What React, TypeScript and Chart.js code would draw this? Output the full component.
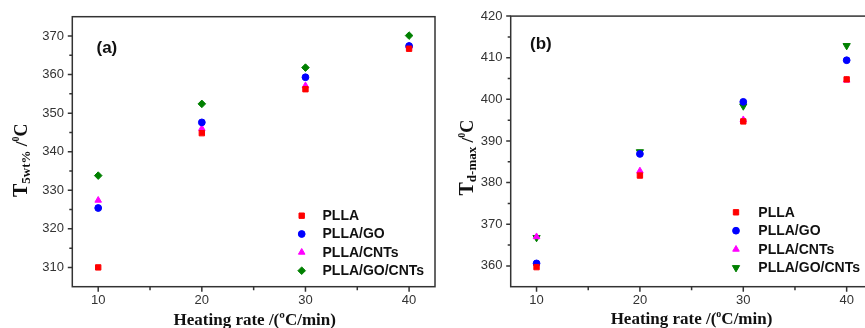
import React, { useEffect, useRef } from 'react';
import { Chart, registerables } from 'chart.js';
import { drawPoint } from 'chart.js/helpers';

Chart.register(...registerables);

// ---------- data ----------
const heatingRates = [10, 20, 30, 40];
const seriesNames = ['PLLA', 'PLLA/GO', 'PLLA/CNTs', 'PLLA/GO/CNTs'];

const t5PLLA = [310.0, 344.8, 356.2, 366.7];
const t5GO = [325.4, 347.6, 359.3, 367.4];
const t5CNTs = [327.4, 346.0, 357.1, 367.4];
const t5GOCNTs = [333.8, 352.4, 361.8, 370.1];

const tdPLLA = [359.7, 381.7, 394.7, 404.8];
const tdGO = [360.6, 386.9, 399.4, 409.4];
const tdCNTs = [367.0, 382.8, 395.1, 404.6];
const tdGOCNTs = [366.8, 387.4, 398.4, 412.9];

const xTickValues = [10, 20, 30, 40];
const yTickValuesA = [310, 320, 330, 340, 350, 360, 370];
const yTickValuesB = [360, 370, 380, 390, 400, 410, 420];

// ---------- styles ----------
const COLORS = ['#ff0000', '#0000ff', '#ff00ff', '#008000'];
const AXIS = '#333333';
const TXT = '#111111';

type Seg = { t: string; size: number; dy: number };

type PanelCfg = {
  series: number[][];
  styles: { pointStyle: string; radius: number; rotation: number }[];
  yMin: number;
  yMax: number;
  yTicks: number[];
  padRight: number;
  padTop: number;
  yWidth: number;
  label: string;
  labelX: number;
  labelY: number;
  legendMarkX: number;
  legendTextX: number;
  legendRows: number[];
  yTitle: Seg[];
  yTitleX: number;
  yTitleStart: number;
  xTitle: Seg[];
  xTitleCx: number;
  xTitleY: number;
};

function drawSegs(ctx: CanvasRenderingContext2D, segs: Seg[], x: number, y: number) {
  let cx = x;
  for (const s of segs) {
    ctx.font = `bold ${s.size}px "Liberation Serif", "Times New Roman", serif`;
    ctx.fillText(s.t, cx, y + s.dy);
    cx += ctx.measureText(s.t).width;
  }
  return cx - x;
}

function segsWidth(ctx: CanvasRenderingContext2D, segs: Seg[]) {
  let w = 0;
  for (const s of segs) {
    ctx.font = `bold ${s.size}px "Liberation Serif", "Times New Roman", serif`;
    w += ctx.measureText(s.t).width;
  }
  return w;
}

function makeConfig(cfg: PanelCfg): any {
  const datasets = cfg.series.map((vals, i) => ({
    label: seriesNames[i],
    data: heatingRates.map((x, j) => ({ x, y: vals[j] })),
    backgroundColor: COLORS[i],
    borderColor: COLORS[i],
    borderWidth: 1,
    pointStyle: cfg.styles[i].pointStyle,
    pointRadius: cfg.styles[i].radius,
    rotation: cfg.styles[i].rotation,
    showLine: false,
  }));

  const decor = {
    id: 'decor',
    beforeDatasetsDraw(chart: any) {
      const ctx = chart.ctx as CanvasRenderingContext2D;
      const a = chart.chartArea;
      const xs = chart.scales.x;
      const ys = chart.scales.y;
      ctx.save();
      ctx.strokeStyle = AXIS;
      ctx.lineWidth = 1.5;
      ctx.strokeRect(a.left, a.top, a.right - a.left, a.bottom - a.top);
      ctx.beginPath();
      // y ticks (major + minor), outward
      cfg.yTicks.forEach((v) => {
        const p = ys.getPixelForValue(v);
        ctx.moveTo(a.left, p);
        ctx.lineTo(a.left - 4.5, p);
        const m = v + 5;
        if (m < cfg.yMax) {
          const pm = ys.getPixelForValue(m);
          ctx.moveTo(a.left, pm);
          ctx.lineTo(a.left - 3, pm);
        }
      });
      // x ticks
      xTickValues.forEach((v, i) => {
        const p = xs.getPixelForValue(v);
        ctx.moveTo(p, a.bottom);
        ctx.lineTo(p, a.bottom + 5);
        if (i < xTickValues.length - 1) {
          const pm = xs.getPixelForValue(v + 5);
          ctx.moveTo(pm, a.bottom);
          ctx.lineTo(pm, a.bottom + 3.5);
        }
      });
      ctx.stroke();
      ctx.restore();
    },
    afterDraw(chart: any) {
      const ctx = chart.ctx as CanvasRenderingContext2D;
      ctx.save();
      // panel label
      ctx.fillStyle = TXT;
      ctx.textAlign = 'left';
      ctx.textBaseline = 'alphabetic';
      ctx.font = 'bold 17px "Liberation Sans", Arial, sans-serif';
      ctx.fillText(cfg.label, cfg.labelX, cfg.labelY);
      // legend
      cfg.legendRows.forEach((ry, i) => {
        const st = cfg.styles[i];
        ctx.fillStyle = COLORS[i];
        ctx.strokeStyle = COLORS[i];
        ctx.lineWidth = 1;
        drawPoint(ctx, { pointStyle: st.pointStyle as any, radius: st.radius, rotation: st.rotation, borderWidth: 1 } as any, cfg.legendMarkX, ry);
        ctx.fillStyle = TXT;
        ctx.textBaseline = 'middle';
        ctx.font = 'bold 14px "Liberation Sans", Arial, sans-serif';
        ctx.fillText(seriesNames[i], cfg.legendTextX, ry + 0.5);
      });
      // x title
      ctx.fillStyle = TXT;
      ctx.textBaseline = 'alphabetic';
      const w = segsWidth(ctx, cfg.xTitle);
      drawSegs(ctx, cfg.xTitle, cfg.xTitleCx - w / 2, cfg.xTitleY);
      // y title rotated
      ctx.translate(cfg.yTitleX, cfg.yTitleStart);
      ctx.rotate(-Math.PI / 2);
      drawSegs(ctx, cfg.yTitle, 0, 0);
      ctx.restore();
    },
  };

  return {
    type: 'scatter',
    data: { datasets },
    options: {
      responsive: false,
      animation: false,
      events: [],
      layout: { padding: { left: 0, top: cfg.padTop, right: cfg.padRight, bottom: 0 } },
      plugins: { legend: { display: false }, tooltip: { enabled: false }, title: { display: false } },
      scales: {
        x: {
          type: 'linear',
          min: 7.5,
          max: 42.5,
          grid: { display: false, drawTicks: false },
          border: { display: false },
          afterBuildTicks: (s: any) => {
            s.ticks = xTickValues.map((v) => ({ value: v }));
          },
          afterFit: (s: any) => {
            s.height = 41.3;
          },
          ticks: {
            padding: 5.5,
            color: AXIS,
            font: { family: '"Liberation Sans", Arial, sans-serif', size: 13 },
            maxRotation: 0,
            callback: (v: any) => String(v),
          },
        },
        y: {
          type: 'linear',
          min: cfg.yMin,
          max: cfg.yMax,
          grid: { display: false, drawTicks: false },
          border: { display: false },
          afterBuildTicks: (s: any) => {
            s.ticks = cfg.yTicks.map((v) => ({ value: v }));
          },
          afterFit: (s: any) => {
            s.width = cfg.yWidth;
          },
          ticks: {
            padding: 8.3,
            color: AXIS,
            font: { family: '"Liberation Sans", Arial, sans-serif', size: 13 },
            callback: (v: any) => String(v),
          },
        },
      },
    },
    plugins: [decor],
  };
}

const panelA: PanelCfg = {
  series: [t5PLLA, t5GO, t5CNTs, t5GOCNTs],
  styles: [
    { pointStyle: 'rect', radius: 3.8, rotation: 0 },
    { pointStyle: 'circle', radius: 3.4, rotation: 0 },
    { pointStyle: 'triangle', radius: 3.8, rotation: 0 },
    { pointStyle: 'rectRot', radius: 3.8, rotation: 0 },
  ],
  yMin: 305,
  yMax: 375,
  yTicks: yTickValuesA,
  padRight: 10,
  padTop: 16.7,
  yWidth: 72.3,
  label: '(a)',
  labelX: 96.5,
  labelY: 53,
  legendMarkX: 301.7,
  legendTextX: 322.5,
  legendRows: [215.7, 234, 252.3, 270.7],
  yTitle: [
    { t: 'T', size: 20, dy: 0 },
    { t: '5wt%', size: 13, dy: 3 },
    { t: ' /', size: 17, dy: 0 },
    { t: '0', size: 10, dy: -8 },
    { t: 'C', size: 18, dy: 0 },
  ],
  yTitleX: 27,
  yTitleStart: 197,
  xTitle: [{ t: 'Heating rate /(ºC/min)', size: 17, dy: 0 }],
  xTitleCx: 254.7,
  xTitleY: 325,
};

const panelB: PanelCfg = {
  series: [tdPLLA, tdGO, tdCNTs, tdGOCNTs],
  styles: [
    { pointStyle: 'rect', radius: 3.8, rotation: 0 },
    { pointStyle: 'circle', radius: 3.4, rotation: 0 },
    { pointStyle: 'triangle', radius: 3.8, rotation: 0 },
    { pointStyle: 'triangle', radius: 4.2, rotation: 180 },
  ],
  yMin: 355,
  yMax: 420,
  yTicks: yTickValuesB,
  padRight: 17.5,
  padTop: 16,
  yWidth: 65.7,
  label: '(b)',
  labelX: 85,
  labelY: 49,
  legendMarkX: 291,
  legendTextX: 313.3,
  legendRows: [212.3, 230.7, 249.3, 267.7],
  yTitle: [
    { t: 'T', size: 20, dy: 0 },
    { t: 'd-max', size: 13, dy: 3 },
    { t: ' /', size: 17, dy: 0 },
    { t: '0', size: 10, dy: -8 },
    { t: 'C', size: 18, dy: 0 },
  ],
  yTitleX: 28.3,
  yTitleStart: 195.5,
  xTitle: [
    { t: 'Heating rate /(', size: 17, dy: 0 },
    { t: 'o', size: 10, dy: -7 },
    { t: 'C/min)', size: 17, dy: 0 },
  ],
  xTitleCx: 246.5,
  xTitleY: 323.5,
};

function Panel({ cfg, left }: { cfg: PanelCfg; left: number }) {
  const ref = useRef<HTMLCanvasElement>(null);
  useEffect(() => {
    const chart = new Chart(ref.current as HTMLCanvasElement, makeConfig(cfg));
    return () => chart.destroy();
  }, [cfg]);
  return (
    <canvas
      ref={ref}
      width={445}
      height={328}
      style={{ position: 'absolute', left, top: 0, width: 445, height: 328 }}
    />
  );
}

export default function App() {
  return (
    <div
      style={{
        position: 'fixed',
        left: 0,
        top: 0,
        width: 865,
        height: 328,
        overflow: 'hidden',
        background: '#ffffff',
      }}
    >
      <Panel cfg={panelA} left={0} />
      <Panel cfg={panelB} left={445} />
    </div>
  );
}
